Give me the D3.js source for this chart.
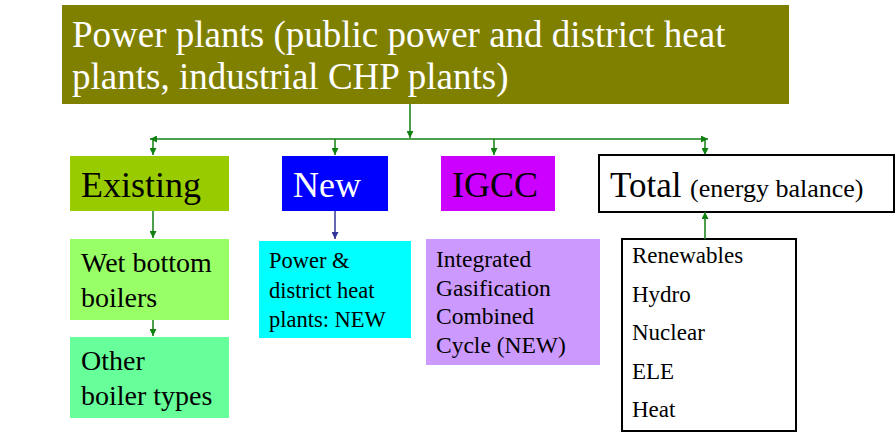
<!DOCTYPE html>
<html>
<head>
<meta charset="utf-8">
<script src="https://cdn.jsdelivr.net/npm/d3@7"></script>
</head>
<body style="margin:0">
<svg width="896" height="435"></svg>
<script>
// diagram content
var titleLines = ["Power plants (public power and district heat", "plants, industrial CHP plants)"];
var categories = ["Existing", "New", "IGCC", "Total"];
var existingSubs = [["Wet bottom", "boilers"], ["Other", "boiler types"]];
var newSub = ["Power &", "district heat", "plants: NEW"];
var igccSub = ["Integrated", "Gasification", "Combined", "Cycle (NEW)"];
var totalNote = "(energy balance)";
var balanceItems = ["Renewables", "Hydro", "Nuclear", "ELE", "Heat"];

var svg = d3.select("svg");
var green = "#108010";

var defs = svg.append("defs");
function marker(id, color) {
  defs.append("marker")
    .attr("id", id)
    .attr("viewBox", "0 0 10 10")
    .attr("refX", 10).attr("refY", 5)
    .attr("markerWidth", 8).attr("markerHeight", 7)
    .attr("markerUnits", "userSpaceOnUse")
    .attr("orient", "auto")
    .append("path").attr("d", "M0,0L10,5L0,10z").attr("fill", color);
}
marker("ag", green);
marker("ab", "#333399");

function arrow(x1, y1, x2, y2, m) {
  svg.append("line")
    .attr("x1", x1).attr("y1", y1).attr("x2", x2).attr("y2", y2)
    .attr("stroke", m === "ab" ? "#333399" : green)
    .attr("stroke-width", 1.5)
    .attr("marker-end", "url(#" + m + ")");
}

function box(x, y, w, h, fill, stroke) {
  svg.append("rect")
    .attr("x", x).attr("y", y).attr("width", w).attr("height", h)
    .attr("fill", fill)
    .attr("stroke", stroke || "none")
    .attr("stroke-width", stroke ? 2 : 0);
}

// one text element per line, same way for every label
function lines(arr, x, y0, dy, size, color) {
  svg.append("g").selectAll("text").data(arr).enter().append("text")
    .attr("x", x)
    .attr("y", function(d, i) { return y0 + i * dy; })
    .attr("font-size", size)
    .style("font-family", "'Times New Roman'")
    .style("fill", color || "#000")
    .text(function(d) { return d; });
}

// title
box(62, 5, 727, 99, "#808000");
lines(titleLines, 72, 47, 42, 37, "#fff");

// connectors
arrow(410, 104, 410, 138, "ag");
arrow(410, 139, 150, 139, "ag");
arrow(410, 139, 708, 139, "ag");

// category row
var colX = d3.scaleOrdinal().domain(categories).range([153, 335, 494, 705]);
var catFill = { Existing: "#99cc00", New: "#0000ff", IGCC: "#cc00ff" };
var catBox = { Existing: [70, 159], New: [282, 106], IGCC: [441, 114] };
var catText = { Existing: "#000", New: "#fff", IGCC: "#000" };

categories.forEach(function(c) {
  arrow(colX(c), 139, colX(c), 155, "ag");
});
["Existing", "New", "IGCC"].forEach(function(c) {
  box(catBox[c][0], 156, catBox[c][1], 55, catFill[c]);
  lines([c], catBox[c][0] + 11, 197, 0, 36, catText[c]);
});

// total box
box(599, 155, 295, 57, "#fff", "#000");
lines([categories[3]], 610, 197, 0, 35);
lines([totalNote], 690, 197, 0, 26);

// existing column
arrow(153, 211, 153, 238, "ag");
box(70, 239, 159, 81, "#99ff66");
lines(existingSubs[0], 81, 272, 35, 28);
arrow(153, 320, 153, 336, "ag");
box(70, 337, 159, 81, "#66ff99");
lines(existingSubs[1], 81, 370, 35, 28);

// new column
arrow(335, 211, 335, 239, "ab");
box(259, 241, 152, 97, "#00ffff");
lines(newSub, 269, 268, 29.5, 22.5);

// igcc column
box(426, 239, 174, 126, "#cc99ff");
lines(igccSub, 436, 267, 28.7, 23.5);

// balance list
box(622, 239, 174, 192, "#fff", "#000");
arrow(705, 239, 705, 212, "ag");
lines(balanceItems, 632, 263, 38.5, 23);
</script>
</body>
</html>
